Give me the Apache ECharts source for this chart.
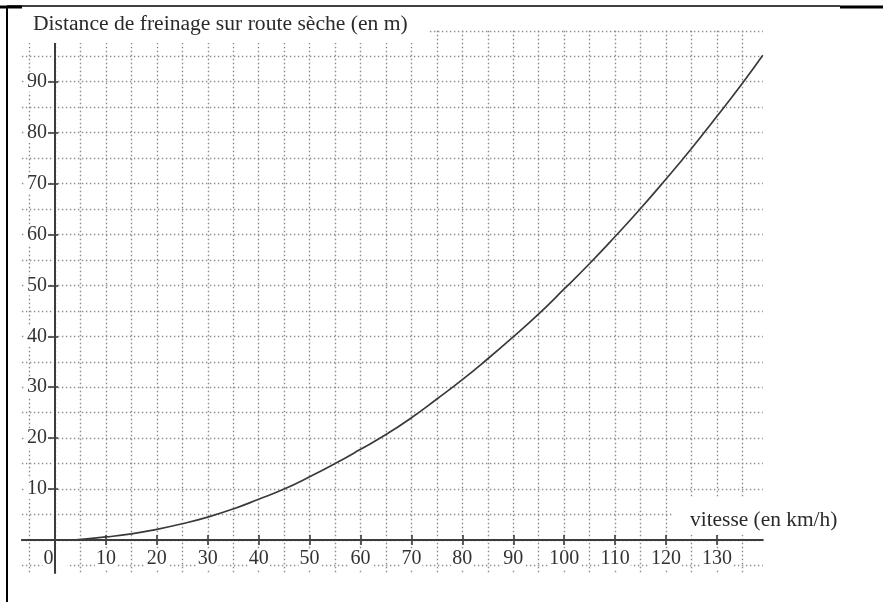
<!DOCTYPE html>
<html>
<head>
<meta charset="utf-8">
<script src="https://cdn.jsdelivr.net/npm/echarts@6/dist/echarts.min.js"></script>
<style>
html,body{margin:0;padding:0;background:#fff;}
#chart{width:883px;height:602px;}
</style>
</head>
<body>
<div id="chart"></div>
<script>
// ---- data ----
const speeds = [3.5, 10, 15, 20, 25, 30, 35, 40, 45, 50, 55, 60, 65, 70, 75, 80, 85, 90, 95, 100, 105, 110, 115, 120, 125, 130, 135, 139];
const distances = [0, 0.6, 1.2, 2.1, 3.2, 4.5, 6.1, 8.0, 10.0, 12.4, 15.0, 17.8, 20.7, 24.0, 27.7, 31.5, 35.6, 39.9, 44.4, 49.3, 54.3, 59.6, 65.1, 70.9, 76.9, 83.2, 89.7, 95.2];
const yTitle = 'Distance de freinage sur route sèche (en m)';
const xTitle = 'vitesse (en km/h)';
const xTickMin = 0, xTickMax = 130, xTickStep = 10;
const yTickMin = 0, yTickMax = 90, yTickStep = 10;

// ---- layout (pixel mapping) ----
const X0 = 55, SX = 5.092;   // px of x=0, px per km/h
const Y0 = 540, SY = 5.092;  // px of y=0, px per m
const px = v => X0 + SX * v;
const py = v => Y0 - SY * v;

const FONT = 'Liberation Serif';
const gridDot = { color: '#8c8c8c', width: 1.4, type: [1.4, 2.6] };

const data = speeds.map((s, i) => [s, distances[i]]);

const chart = echarts.init(document.getElementById('chart'), null, { renderer: 'canvas' });
chart.setOption({
  animation: false,
  backgroundColor: '#fff',
  title: [
    {
      text: yTitle, left: 22, top: 7,
      padding: [5, 20, 7, 11], backgroundColor: '#fff',
      textStyle: { fontFamily: FONT, fontSize: 21.6, fontWeight: 'normal', color: '#2a2a2a', lineHeight: 24 }
    },
    {
      text: xTitle, left: 673, top: 498,
      padding: [10, 6, 3, 17], backgroundColor: '#fff',
      textStyle: { fontFamily: FONT, fontSize: 21.4, fontWeight: 'normal', color: '#2a2a2a', lineHeight: 24 }
    }
  ],
  grid: [
    { left: px(-6.5), width: SX * 145.5, top: py(100), height: SY * 105, outerBoundsMode: 'none', containLabel: false },
    { left: px(-5), width: SX * 140, top: py(100), height: SY * 106.5, outerBoundsMode: 'none', containLabel: false },
    { left: px(-6.5), width: SX * 145.5, top: py(97.8), height: SY * 104.3, outerBoundsMode: 'none', containLabel: false },
    { left: px(0), width: SX * 130, top: 500, height: 45, outerBoundsMode: 'none', containLabel: false },
    { left: 48, width: 10, top: py(90), height: SY * 90, outerBoundsMode: 'none', containLabel: false }
  ],
  xAxis: [
    { gridIndex: 0, type: 'value', min: -6.5, max: 139, show: false },
    { gridIndex: 1, type: 'value', min: -5, max: 135, interval: 5, z: 0,
      axisLine: { show: false }, axisTick: { show: false }, axisLabel: { show: false },
      splitLine: { show: true, lineStyle: gridDot } },
    { gridIndex: 2, type: 'value', min: -6.5, max: 139, z: 5,
      axisLine: { show: true, onZero: true, lineStyle: { color: '#3c3c3c', width: 2 } },
      axisTick: { show: false }, axisLabel: { show: false }, splitLine: { show: false } },
    { gridIndex: 3, type: 'value', min: xTickMin, max: xTickMax, interval: xTickStep, position: 'bottom', z: 3,
      axisLine: { show: false },
      axisTick: { show: true, inside: true, length: 10, lineStyle: { color: '#3c3c3c', width: 1.6 } },
      axisLabel: {
        show: true, margin: 4, showMinLabel: true, showMaxLabel: true,
        fontFamily: FONT, fontSize: 20, color: '#333', backgroundColor: '#fff', padding: [0, 1],
        formatter: v => v === 0 ? '{z|0}' : String(v),
        rich: { z: { fontFamily: FONT, fontSize: 20, color: '#333', padding: [0, 13, 0, 0] } }
      },
      splitLine: { show: false } },
    { gridIndex: 4, type: 'value', min: 0, max: 1, show: false }
  ],
  yAxis: [
    { gridIndex: 0, type: 'value', min: -5, max: 100, interval: 5, z: 0,
      axisLine: { show: false }, axisTick: { show: false }, axisLabel: { show: false },
      splitLine: { show: true, lineStyle: gridDot } },
    { gridIndex: 1, type: 'value', min: -6.5, max: 100, show: false },
    { gridIndex: 2, type: 'value', min: -6.5, max: 97.8, z: 5,
      axisLine: { show: true, onZero: true, lineStyle: { color: '#3c3c3c', width: 2 } },
      axisTick: { show: false }, axisLabel: { show: false }, splitLine: { show: false } },
    { gridIndex: 3, type: 'value', min: 0, max: 1, show: false },
    { gridIndex: 4, type: 'value', min: yTickMin, max: yTickMax, interval: yTickStep, position: 'left', z: 3,
      axisLine: { show: false },
      axisTick: { show: true, inside: true, length: 10, lineStyle: { color: '#3c3c3c', width: 1.6 } },
      axisLabel: {
        show: true, margin: 0, showMinLabel: true, showMaxLabel: true,
        fontFamily: FONT, fontSize: 20, color: '#333', backgroundColor: '#fff', padding: [0, 1],
        formatter: v => v === 0 ? '' : String(v)
      },
      splitLine: { show: false } }
  ],
  series: [
    {
      type: 'line', xAxisIndex: 2, yAxisIndex: 2, data: data,
      smooth: true, showSymbol: false, symbol: 'none', z: 4,
      lineStyle: { color: '#3a3a3a', width: 1.7 }
    }
  ],
  graphic: [
    { type: 'line', shape: { x1: 7, y1: 6, x2: 840, y2: 6 }, style: { stroke: '#000', lineWidth: 1.5 }, z: 10 },
    { type: 'line', shape: { x1: 7, y1: 6, x2: 7, y2: 602 }, style: { stroke: '#000', lineWidth: 2 }, z: 10 },
    { type: 'line', shape: { x1: 0, y1: 7, x2: 22, y2: 7 }, style: { stroke: '#000', lineWidth: 3 }, z: 10 },
    { type: 'line', shape: { x1: 840, y1: 7, x2: 883, y2: 7 }, style: { stroke: '#000', lineWidth: 3 }, z: 10 }
  ]
});
</script>
</body>
</html>
